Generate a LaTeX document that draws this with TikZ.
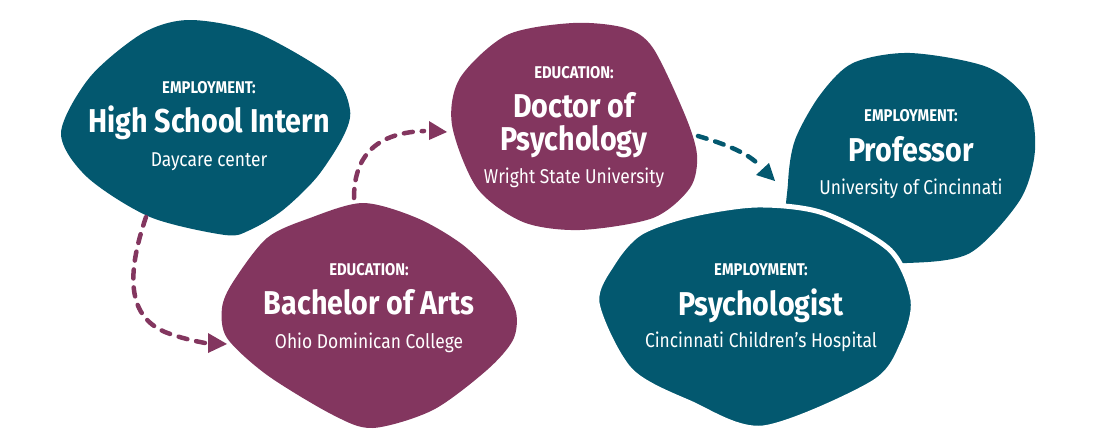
\documentclass[tikz,border=0pt]{standalone}
\usepackage{fontspec}
\setmainfont{Fira Sans}[FakeStretch=0.87]
\definecolor{petrol}{HTML}{03586F}
\definecolor{plum}{HTML}{83365F}
\tikzset{
  headtext/.style={font=\bfseries\fontsize{17}{17}\selectfont},
  titletext/.style={font=\bfseries\fontsize{33}{33}\selectfont},
  placetext/.style={font=\fontsize{20}{20}\selectfont},
  dashline/.style={line width=4.5pt, dash pattern=on 9pt off 9pt, line cap=round}
}
\begin{document}
\begin{tikzpicture}[x=1pt,y=1pt]
			\tikzstyle{every node}+=[inner sep=0pt, text=white, anchor=base]
			\useasboundingbox (0,0) rectangle (1096,-447);
			% blobs
			\fill [petrol] plot [smooth cycle] coordinates {(190,-20) (257,-33) (333,-77) (350,-110) (343,-137) (317,-177) (283,-210) (250,-230) (225,-235) (150,-217) (87,-177) (61,-133) (90,-77) (143,-33)};
			\fill [plum] plot [smooth cycle] coordinates {(363,-203) (417,-218) (463,-245) (500,-282) (516,-312) (513,-340) (487,-370) (433,-410) (373,-428) (333,-415) (267,-375) (227,-338) (222,-308) (233,-282) (267,-238) (310,-218)};
			\fill [plum] plot [smooth cycle] coordinates {(573,-23) (625,-28) (653,-48) (685,-115) (697,-155) (690,-188) (653,-218) (580,-230) (523,-222) (477,-188) (452,-125) (460,-78) (507,-35)};
			\fill [petrol] plot [smooth cycle] coordinates {(910,-53) (987,-67) (1027,-100) (1035,-150) (1020,-200) (970,-253) (907,-263) (850,-258) (790,-235) (788,-183) (795,-140) (820,-95) (853,-63)};
			\filldraw [petrol, draw=white, line width=5pt] plot [smooth cycle] coordinates {(757,-205) (823,-213) (890,-250) (913,-300) (903,-343) (873,-383) (763,-428) (690,-403) (630,-370) (597,-303) (613,-263) (640,-233) (690,-215)};
			% texts
			\node [headtext] (internhead) at (209,-93) {EMPLOYMENT:};
			\node [titletext] (intern) at (209,-132) {High School Intern};
			\node [placetext] (internplace) at (209,-166) {Daycare center};
			\node [headtext] (bachelorhead) at (369,-275) {EDUCATION:};
			\node [titletext] (bachelor) at (369,-314) {Bachelor of Arts};
			\node [placetext] (bachelorplace) at (369,-348) {Ohio Dominican College};
			\node [headtext] (doctorhead) at (574,-78) {EDUCATION:};
			\node [titletext] (doctor) at (574,-117) {Doctor of};
			\node [titletext] (doctor2) at (574,-150) {Psychology};
			\node [placetext] (doctorplace) at (574,-183) {Wright State University};
			\node [headtext] (profhead) at (911,-121) {EMPLOYMENT:};
			\node [titletext] (prof) at (911,-161) {Professor};
			\node [placetext] (profplace) at (911,-194) {University of Cincinnati};
			\node [headtext] (psychhead) at (761,-275) {EMPLOYMENT:};
			\node [titletext] (psych) at (761,-315) {Psychologist};
			\node [placetext] (psychplace) at (761,-347) {Cincinnati Children’s Hospital};
			% connectors
			\coordinate (internout) at (146,-217);
			\coordinate (bachelorin) at (205,-343);
			\coordinate (bachelorout) at (354,-198);
			\coordinate (doctorin) at (424,-131);
			\coordinate (doctorout) at (698,-136);
			\coordinate (profin) at (757,-163);
			\draw [plum, dashline] (internout) .. controls (128,-270) and (125,-315) .. (165,-332) .. controls (180,-338) and (195,-341) .. (bachelorin);
			\fill [plum] (208,-333) -- (227,-344) -- (208,-353);
			\draw [plum, dashline] (bachelorout) .. controls (354,-160) and (372,-133) .. (doctorin);
			\fill [plum] (429,-121) -- (447,-132) -- (429,-140);
			\draw [petrol, dashline] (doctorout) .. controls (725,-144) and (745,-152) .. (profin);
			\fill [petrol] (756,-175) -- (775,-181) -- (769,-163);
\end{tikzpicture}
\end{document}
